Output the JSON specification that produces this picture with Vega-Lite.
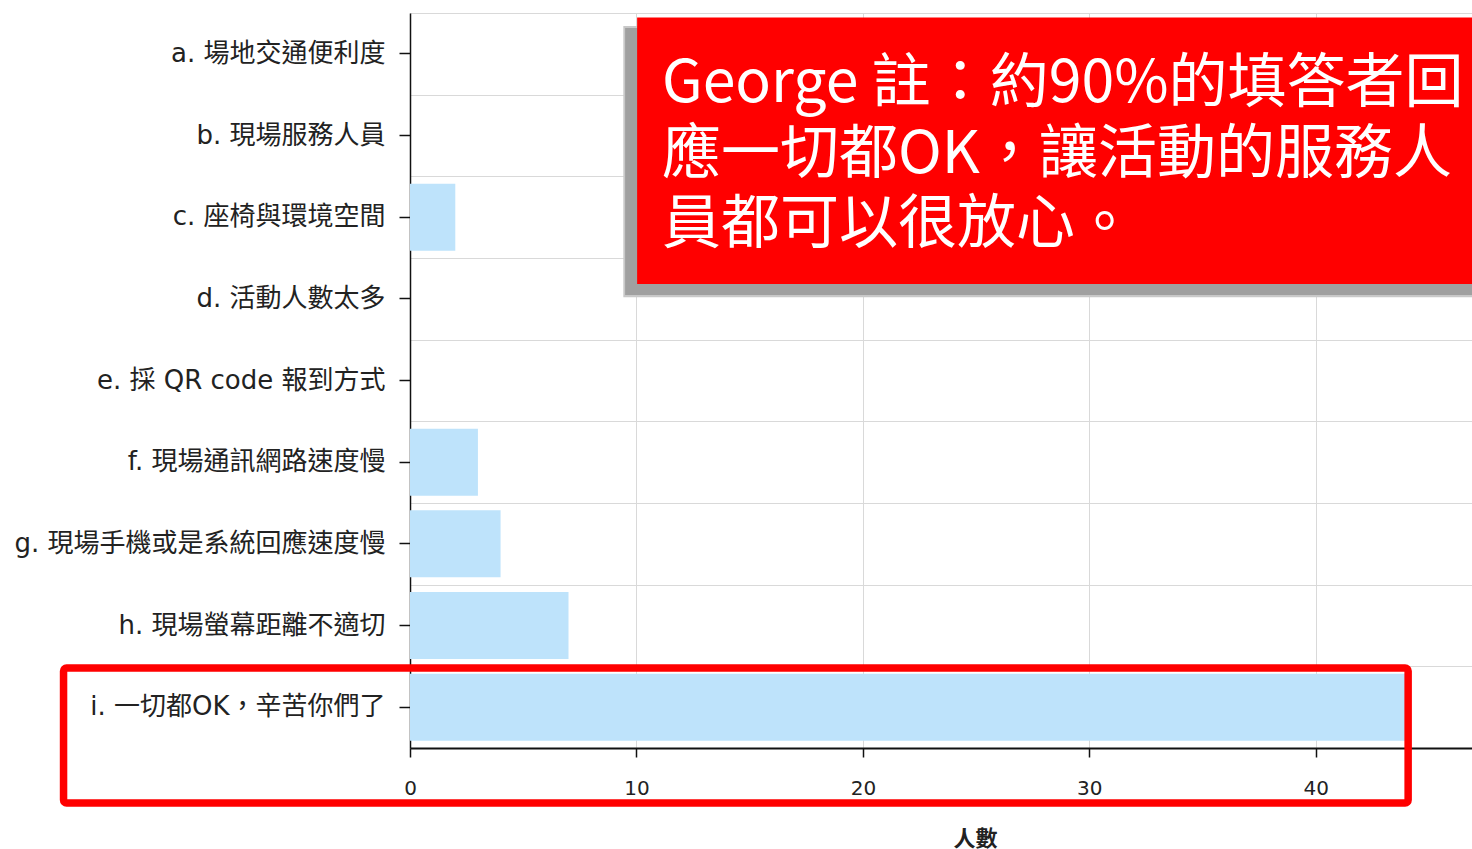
{
  "$schema": "https://vega.github.io/schema/vega-lite/v6.json",
  "width": 1062,
  "height": 735,
  "autosize": {"type": "none"},
  "padding": {"left": 410, "top": 13, "right": 0, "bottom": 101},
  "background": "white",
  "config": {"view": {"stroke": null}, "font": "DejaVu Sans, Noto Sans CJK TC"},
  "resolve": {"scale": {"y": "independent"}, "axis": {"y": "independent"}},
  "layer": [
    {
      "data": {"values": [
        {"item": "a. 場地交通便利度", "count": 0},
        {"item": "b. 現場服務人員", "count": 0},
        {"item": "c. 座椅與環境空間", "count": 2},
        {"item": "d. 活動人數太多", "count": 0},
        {"item": "e. 採 QR code 報到方式", "count": 0},
        {"item": "f. 現場通訊網路速度慢", "count": 3},
        {"item": "g. 現場手機或是系統回應速度慢", "count": 4},
        {"item": "h. 現場螢幕距離不適切", "count": 7},
        {"item": "i. 一切都OK，辛苦你們了", "count": 44}
      ]},
      "mark": {"type": "bar", "color": "#bee3fb"},
      "encoding": {
        "y": {
          "field": "item", "type": "nominal", "sort": null,
          "scale": {"paddingInner": 0.18, "paddingOuter": 0.09},
          "axis": {
            "title": null, "grid": false, "orient": "left",
            "domainColor": "#111", "domainWidth": 1.5,
            "tickColor": "#111", "tickSize": 11, "tickWidth": 1.5,
            "labelFontSize": 26, "labelPadding": 14, "labelColor": "#222",
            "labelLimit": 0, "labelFont": "DejaVu Sans, Noto Sans CJK TC"
          }
        },
        "x": {
          "field": "count", "type": "quantitative",
          "scale": {"domain": [0, 46.9], "nice": false, "zero": true},
          "axis": {
            "values": [0, 10, 20, 30, 40], "labelFlush": false,
            "grid": true, "gridColor": "#d9d9d9", "gridWidth": 1,
            "domainColor": "#111", "domainWidth": 2,
            "tickColor": "#111", "tickSize": 9, "tickWidth": 1.5,
            "labelFontSize": 20, "labelPadding": 21, "labelColor": "#222",
            "labelFont": "DejaVu Sans",
            "title": "人數", "titleFont": "Noto Sans CJK TC", "titleFontSize": 22,
            "titleFontWeight": "bold", "titleColor": "#222",
            "titleAnchor": null, "titleAlign": "center", "titleBaseline": "middle",
            "titleX": 565, "titleY": 90
          }
        }
      }
    },
    {
      "encoding": {
        "x": {
          "field": "x", "type": "quantitative",
          "scale": {"domain": [0, 46.9], "nice": false, "zero": true},
          "axis": {
            "values": [0, 10, 20, 30, 40], "labelFlush": false,
            "grid": true, "gridColor": "#d9d9d9", "gridWidth": 1,
            "domainColor": "#111", "domainWidth": 2,
            "tickColor": "#111", "tickSize": 9, "tickWidth": 1.5,
            "labelFontSize": 20, "labelPadding": 21, "labelColor": "#222",
            "labelFont": "DejaVu Sans",
            "title": "人數", "titleFont": "Noto Sans CJK TC", "titleFontSize": 22,
            "titleFontWeight": "bold", "titleColor": "#222",
            "titleAnchor": null, "titleAlign": "center", "titleBaseline": "middle",
            "titleX": 565, "titleY": 90
          }
        },
        "y": {
          "field": "y", "type": "quantitative",
          "scale": {"domain": [0, 9], "reverse": true, "nice": false, "zero": false},
          "axis": {"orient": "right", "values": [0, 1, 2, 3, 4, 5, 6, 7, 8], "grid": true, "gridColor": "#d9d9d9",
            "labels": false, "ticks": false, "domain": false, "title": null}
        }
      },
      "layer": [
        {
          "data": {"values": [{"x": 9.42, "x2": 47, "y": 0.16, "y2": 3.48}]},
          "mark": {"type": "rect", "color": "#c8c8c8"},
          "encoding": {"x2": {"field": "x2"}, "y2": {"field": "y2"}}
        },
        {
          "data": {"values": [{"x": 9.5, "x2": 47, "y": 0.184, "y2": 3.453}]},
          "mark": {"type": "rect", "color": "#a0a0a0"},
          "encoding": {"x2": {"field": "x2"}, "y2": {"field": "y2"}}
        },
        {
          "data": {"values": [{"x": 10.03, "x2": 47, "y": 0.055, "y2": 3.318}]},
          "mark": {"type": "rect", "color": "#ff0000"},
          "encoding": {"x2": {"field": "x2"}, "y2": {"field": "y2"}}
        },
        {
          "data": {"values": [
            {"x": 11.13, "y": 1.09, "text": "George 註：約90%的填答者回"},
            {"x": 11.13, "y": 1.96, "text": "應一切都OK，讓活動的服務人"},
            {"x": 11.13, "y": 2.82, "text": "員都可以很放心。"}
          ]},
          "mark": {"type": "text", "color": "#ffffff", "font": "Noto Sans CJK TC", "fontSize": 59, "fontWeight": "normal",
            "align": "left", "baseline": "alphabetic"},
          "encoding": {"text": {"field": "text"}}
        },
        {
          "data": {"values": [{"x": -15.3, "x2": 44.08, "y": 8.02, "y2": 9.673}]},
          "mark": {"type": "rect", "fillOpacity": 0, "stroke": "#ff0000", "strokeWidth": 7.5, "cornerRadius": 3},
          "encoding": {"x2": {"field": "x2"}, "y2": {"field": "y2"}}
        }
      ]
    }
  ]
}
